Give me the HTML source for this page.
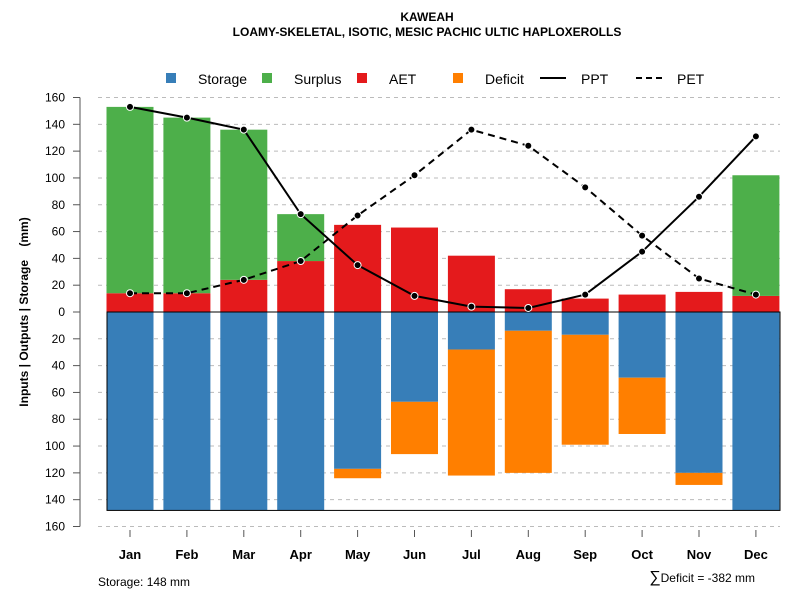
<!DOCTYPE html>
<html><head><meta charset="utf-8"><style>
body{margin:0;background:#fff;}
svg{font-family:"Liberation Sans",sans-serif;display:block;}
</style></head><body>
<svg id="chart" width="800" height="600">
<text x="427" y="21" text-anchor="middle" font-size="12" font-weight="bold">KAWEAH</text>
<text x="427" y="36" text-anchor="middle" font-size="12" font-weight="bold">LOAMY-SKELETAL, ISOTIC, MESIC PACHIC ULTIC HAPLOXEROLLS</text>
<g id="legend">
<rect x="166" y="73" width="10" height="10" fill="#377eb8"/>
<text x="198" y="84" font-size="14">Storage</text>
<rect x="262" y="73" width="10" height="10" fill="#4daf4a"/>
<text x="294" y="84" font-size="14">Surplus</text>
<rect x="357" y="73" width="10" height="10" fill="#e41a1c"/>
<text x="389" y="84" font-size="14">AET</text>
<rect x="453" y="73" width="10" height="10" fill="#ff7f00"/>
<text x="485" y="84" font-size="14">Deficit</text>
<line x1="540" y1="78" x2="566" y2="78" stroke="#000" stroke-width="2"/>
<text x="581" y="84" font-size="14">PPT</text>
<line x1="636" y1="78" x2="662" y2="78" stroke="#000" stroke-width="2" stroke-dasharray="6,4"/>
<text x="677" y="84" font-size="14">PET</text>
</g>
<text transform="translate(28,312) rotate(-90)" text-anchor="middle" font-size="12" font-weight="bold">Inputs | Outputs | Storage&#160;&#160;&#160;&#160;(mm)</text>
<text x="98" y="586" font-size="12">Storage: 148 mm</text>
<text x="755" y="582" text-anchor="end" font-size="12"><tspan font-size="16">∑</tspan>Deficit = -382 mm</text>
<g id="plot"></g>
</svg>
<script>
const months=["Jan","Feb","Mar","Apr","May","Jun","Jul","Aug","Sep","Oct","Nov","Dec"];
const aet=[14,14,24,38,65,63,42,17,10,13,15,12];
const surplus=[139,131,112,35,0,0,0,0,0,0,0,90];
const storage=[148,148,148,148,117,67,28,14,17,49,120,148];
const deficit=[0,0,0,0,7,39,94,106,82,42,9,0];
const ppt=[153,145,136,73,35,12,4,3,13,45,86,131];
const pet=[14,14,24,38,72,102,136,124,93,57,25,13];
const yTicks=[160,140,120,100,80,60,40,20,0,20,40,60,80,100,120,140,160];
const maxStorage=148;

const NS="http://www.w3.org/2000/svg";
const g=document.getElementById('plot');
const y0=312, k=1.3406;
const y=v=>y0-v*k;
const x=i=>130+i*56.9;
const bw=47;
function mk(t,a){const e=document.createElementNS(NS,t);for(const n in a)e.setAttribute(n,a[n]);g.appendChild(e);return e;}
yTicks.forEach((t,i)=>{
  const v=i<8?t:(i===8?0:-t);
  const yy=y(v);
  if(v!==0){const l=mk('line',{x1:98,x2:780,y1:yy,y2:yy,stroke:'#bbb','stroke-dasharray':'4,4'});
  
  }
  const tk=mk('line',{x1:73,x2:80,y1:yy,y2:yy,stroke:'#555'});
  
  
  const tx=mk('text',{x:65,y:yy+4,'text-anchor':'end','font-size':12});tx.textContent=t;
  
  
});
const ax=mk('line',{x1:80,x2:80,y1:y(160),y2:y(-160),stroke:'#555'});


months.forEach((m,i)=>{
  const cx=x(i),l=cx-bw/2;
  const r1=mk('rect',{x:l,y:y(aet[i]),width:bw,height:aet[i]*k,fill:'#e41a1c'});
  
  
  if(surplus[i]>0){const r2=mk('rect',{x:l,y:y(aet[i]+surplus[i]),width:bw,height:surplus[i]*k,fill:'#4daf4a'});
  
  }
  const r3=mk('rect',{x:l,y:y0,width:bw,height:storage[i]*k,fill:'#377eb8'});
  
  
  if(deficit[i]>0){const r4=mk('rect',{x:l,y:y(-storage[i]),width:bw,height:deficit[i]*k,fill:'#ff7f00'});
  
  }
  const tk=mk('line',{x1:cx,x2:cx,y1:530,y2:537,stroke:'#555'});
  
  
  const tx=mk('text',{x:cx,y:559,'text-anchor':'middle','font-size':13,'font-weight':'bold'});tx.textContent=m;
  
  
});
const zl=mk('line',{x1:107,x2:780,y1:y0,y2:y0,stroke:'#000'});


const sb=mk('rect',{x:107,y:y0,width:673,height:maxStorage*k,fill:'none',stroke:'#000'});


function series(arr,name,dash){
  const p=mk('polyline',{points:arr.map((v,i)=>x(i)+','+y(v)).join(' '),fill:'none',stroke:'#000','stroke-width':2});
  if(dash)p.setAttribute('stroke-dasharray','7,5');
  
  
  arr.forEach((v,i)=>{const c=mk('circle',{cx:x(i),cy:y(v),r:3.5,fill:'#000',stroke:'#fff','stroke-width':1});
  
  });
}
series(pet,'pet',true);
series(ppt,'ppt',false);
</script>
</body></html>
